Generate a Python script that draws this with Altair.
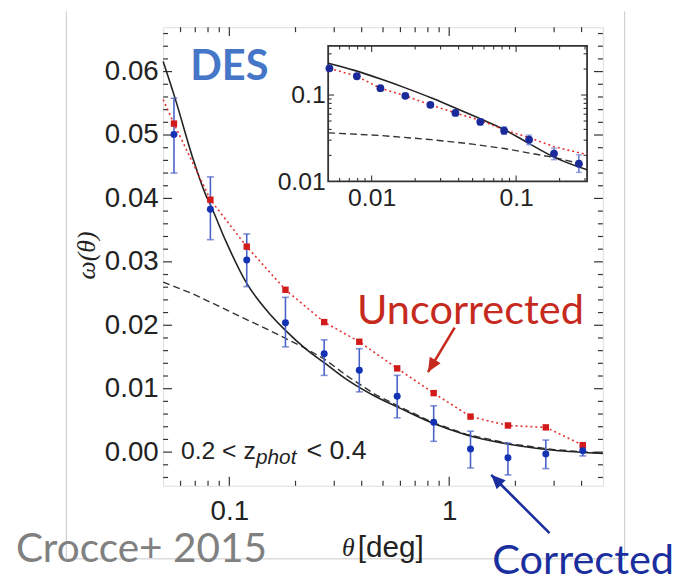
import altair as alt
import pandas as pd
import numpy as np

W, H = 445, 464
SANS = "Liberation Sans, Arial, Helvetica"
SERIF = "Liberation Serif, Times New Roman, serif"
LATO = "Lato, Noto Sans, sans-serif"

# ---------------- main panel data ----------------
theta = [0.056, 0.082, 0.12, 0.18, 0.27, 0.39, 0.58, 0.85, 1.25, 1.85, 2.75, 4.05]
w_corr = [0.0501, 0.0383, 0.0303, 0.0204, 0.0155, 0.0129, 0.0088, 0.0047, 0.0005, -0.0009, -0.0003, 0.0002]
w_corr_lo = [0.0440, 0.0335, 0.0261, 0.0166, 0.0121, 0.0095, 0.0054, 0.0017, -0.0025, -0.0036, -0.0026, -0.0006]
w_corr_hi = [0.0558, 0.0434, 0.0344, 0.0244, 0.0177, 0.0163, 0.0121, 0.0073, 0.0033, 0.0014, 0.0019, 0.0009]
w_unc = [0.0518, 0.0398, 0.0324, 0.0256, 0.0205, 0.0174, 0.0132, 0.0093, 0.0056, 0.0042, 0.0039, 0.0011]
unc_line_theta = [0.05] + theta
unc_line_w = [0.0556] + w_unc

model_theta = [0.05, 0.057, 0.068, 0.078, 0.0825, 0.0963, 0.12, 0.15, 0.18, 0.224, 0.27, 0.34,
               0.46, 0.6, 0.85, 1.2, 1.9, 3.0, 5.0]
model_w = [0.0616, 0.0555, 0.0465, 0.0406, 0.0388, 0.0333, 0.0266, 0.0221, 0.0192, 0.0162, 0.0141,
           0.0115, 0.0088, 0.0069, 0.0045, 0.0027, 0.0012, 0.0003, -0.0002]
lin_theta = [0.05, 0.068, 0.1, 0.15, 0.2125, 0.27, 0.34, 0.46, 0.6, 0.85, 1.2, 1.9, 3.0, 5.0]
lin_w = [0.0268, 0.0250, 0.0222, 0.0193, 0.0167, 0.0147, 0.0121, 0.0091, 0.0071, 0.0046, 0.0028,
         0.0013, 0.0004, -0.0002]

# ---------------- inset data ----------------
in_theta = [0.0051, 0.0079, 0.0115, 0.0171, 0.0255, 0.038, 0.0565, 0.0826, 0.123, 0.183, 0.272]
in_w = [0.204, 0.165, 0.120, 0.098, 0.077, 0.062, 0.049, 0.0386, 0.0304, 0.021, 0.016]
in_lo = [0.197, 0.159, 0.115, 0.094, 0.073, 0.058, 0.045, 0.0350, 0.0266, 0.0178, 0.0127]
in_hi = [0.211, 0.171, 0.125, 0.102, 0.081, 0.066, 0.053, 0.0428, 0.0344, 0.0242, 0.0203]
in_unc_theta = in_theta + [0.31]
in_unc_w = [0.204, 0.165, 0.120, 0.098, 0.077, 0.062, 0.051, 0.0395, 0.0322, 0.0252, 0.0215, 0.0205]
in_model_theta = [0.005, 0.0076, 0.0117, 0.0171, 0.026, 0.038, 0.0565, 0.0826, 0.123, 0.183, 0.31]
in_model_w = [0.233, 0.193, 0.152, 0.121, 0.0923, 0.0706, 0.0531, 0.0399, 0.0274, 0.0191, 0.0136]
in_lin_theta = [0.005, 0.0115, 0.026, 0.05, 0.083, 0.183, 0.28, 0.31]
in_lin_w = [0.0365, 0.0340, 0.0304, 0.0270, 0.0240, 0.0189, 0.0160, 0.0152]

# tick positions
main_x_major = [0.1, 1.0]
main_x_minor = [0.06, 0.07, 0.08, 0.09, 0.2, 0.3, 0.4, 0.5, 0.6, 0.7, 0.8, 0.9, 2.0, 3.0, 4.0]
main_y_major = [0.0, 0.01, 0.02, 0.03, 0.04, 0.05, 0.06]
main_y_minor = [-0.004, -0.002, 0.002, 0.004, 0.006, 0.008, 0.012, 0.014, 0.016, 0.018,
                0.022, 0.024, 0.026, 0.028, 0.032, 0.034, 0.036, 0.038, 0.042, 0.044, 0.046, 0.048,
                0.052, 0.054, 0.056, 0.058, 0.062, 0.064, 0.066]
in_x_major = [0.01, 0.1]
in_x_minor = [0.006, 0.007, 0.008, 0.009, 0.02, 0.03, 0.04, 0.05, 0.06, 0.07, 0.08, 0.09, 0.2, 0.3]
in_y_major = [0.1]
in_y_minor = [0.02, 0.03, 0.04, 0.05, 0.06, 0.07, 0.08, 0.09, 0.2, 0.3]

# ---------------- scales / axes ----------------
xs_main = alt.Scale(type="log", domain=[0.05, 5], nice=False)
ys_main = alt.Scale(domain=[-0.0053, 0.067], nice=False, zero=False)
ax_main_x = alt.Axis(values=main_x_major, labelExpr="datum.value >= 1 ? '1' : '0.1'", tickSize=0,
                     domain=False, grid=False, labelFontSize=28, labelFont=SANS, labelColor="#222",
                     labelPadding=12, title=None, labelFlush=False)
ax_main_y = alt.Axis(values=main_y_major, format=".2f", tickSize=0, domain=False, grid=False,
                     labelFontSize=28, labelFont=SANS, labelColor="#222", labelPadding=5, title=None)

IX0, IX1, IY0, IY1 = 167, 429, 156, 19
xs_in = alt.Scale(type="log", domain=[0.005, 0.31], nice=False, range=[IX0, IX1])
ys_in = alt.Scale(type="log", domain=[0.01, 0.37], nice=False, range=[IY0, IY1])
ax_in_x = alt.Axis(orient="bottom", offset=-(H - IY0), values=in_x_major,
                   labelExpr="datum.value < 0.05 ? '0.01' : '0.1'", tickSize=0, domain=False,
                   grid=False, labelFontSize=25, labelFont=SANS, labelColor="#222", labelPadding=4,
                   title=None, labelFlush=False)
ax_in_y = alt.Axis(orient="left", offset=-IX0, values=[0.01, 0.1],
                   labelExpr="datum.value < 0.05 ? '0.01' : '0.1'", tickSize=0, domain=False,
                   grid=False, labelFontSize=25, labelFont=SANS, labelColor="#222", labelPadding=3,
                   title=None, labelFlush=False)


def mx(f):
    return alt.X(f"{f}:Q", scale=xs_main, axis=ax_main_x)


def my(f):
    return alt.Y(f"{f}:Q", scale=ys_main, axis=ax_main_y)


def ix(f):
    return alt.X(f"{f}:Q", scale=xs_in, axis=ax_in_x)


def iy(f):
    return alt.Y(f"{f}:Q", scale=ys_in, axis=ax_in_y)


main_df = pd.DataFrame({"theta": theta, "w": w_corr, "lo": w_corr_lo, "hi": w_corr_hi, "unc": w_unc})
unc_line_df = pd.DataFrame({"theta": unc_line_theta, "w": unc_line_w})
model_df = pd.DataFrame({"theta": model_theta, "w": model_w})
lin_df = pd.DataFrame({"theta": lin_theta, "w": lin_w})

BLUE = "#1432b4"
BLUE_ERR = "#4a62c8"
RED = "#d21a1a"
TICKC = "#333"

layers = []


def xticks(vals, L):
    df = pd.DataFrame({"theta": vals})
    out = []
    for y0, y1 in [(H, H - L), (0, L)]:
        out.append(alt.Chart(df).mark_rule(color=TICKC, strokeWidth=1.2).encode(
            x=mx("theta"), y=alt.value(y0), y2=alt.value(y1)))
    return out


def yticks(vals, L):
    df = pd.DataFrame({"w": vals})
    out = []
    for a, b in [(0, L), (W, W - L)]:
        out.append(alt.Chart(df).mark_rule(color=TICKC, strokeWidth=1.2).encode(
            y=my("w"), x=alt.value(a), x2=alt.value(b)))
    return out


layers += xticks(main_x_major, 9)
layers += xticks(main_x_minor, 5)
layers += yticks(main_y_major, 9)
layers += yticks(main_y_minor, 5)

layers.append(alt.Chart(lin_df).mark_line(color="#333", strokeWidth=1.4, strokeDash=[7, 4]).encode(
    x=mx("theta"), y=my("w")))
layers.append(alt.Chart(model_df).mark_line(color="#222", strokeWidth=1.6, interpolate="monotone").encode(
    x=mx("theta"), y=my("w")))
layers.append(alt.Chart(unc_line_df).mark_line(color="#e53030", strokeWidth=1.6, strokeDash=[2, 3]).encode(
    x=mx("theta"), y=my("w")))
layers.append(alt.Chart(main_df).mark_rule(color=BLUE_ERR, strokeWidth=1.6).encode(
    x=mx("theta"), y=my("lo"), y2="hi"))
layers.append(alt.Chart(main_df).mark_tick(color=BLUE_ERR, thickness=1.6, size=7, orient="horizontal").encode(
    x=mx("theta"), y=my("lo")))
layers.append(alt.Chart(main_df).mark_tick(color=BLUE_ERR, thickness=1.6, size=7, orient="horizontal").encode(
    x=mx("theta"), y=my("hi")))
layers.append(alt.Chart(main_df).mark_point(shape="square", filled=True, color=RED, size=42, opacity=1).encode(
    x=mx("theta"), y=my("unc")))
layers.append(alt.Chart(main_df).mark_point(shape="circle", filled=True, color=BLUE, size=50, opacity=1).encode(
    x=mx("theta"), y=my("w")))


def txt(s, x, y, **kw):
    return alt.Chart(pd.DataFrame({"t": [s]})).mark_text(**kw).encode(
        text="t:N", x=alt.value(x), y=alt.value(y))


# light slide frame
for enc in [dict(x=alt.value(-98), y=alt.value(-16), y2=alt.value(538)),
            dict(x=alt.value(467), y=alt.value(-16), y2=alt.value(538)),
            dict(x=alt.value(-98), x2=alt.value(467), y=alt.value(538))]:
    layers.append(alt.Chart(pd.DataFrame({"a": [0]})).mark_rule(color="#c8c8c8", strokeWidth=1).encode(**enc))

# annotations
layers.append(txt("DES", 67, 40, font=LATO, fontSize=42, fontWeight="bold", color="#4676c8",
                  align="center", baseline="middle"))
layers.append(txt("0.2 < z", 18, 429, font=SANS, fontSize=25, color="#222", align="left", baseline="middle"))
layers.append(txt("phot", 94, 436, font=SANS, fontSize=21, fontStyle="italic", color="#222",
                  align="left", baseline="middle"))
layers.append(txt("< 0.4", 145, 429, font=SANS, fontSize=27, color="#222", align="left", baseline="middle"))
layers.append(txt("ω(θ)", -77, 231, font=SERIF, fontSize=26, fontStyle="italic", color="#222",
                  align="center", baseline="middle", angle=270))
layers.append(txt("θ", 181, 527, font=SERIF, fontSize=26, fontStyle="italic", color="#222",
                  align="left", baseline="middle"))
layers.append(txt("[deg]", 197, 527, font=SANS, fontSize=30, color="#222", align="left", baseline="middle"))
layers.append(txt("Uncorrected", 311, 287, font=LATO, fontSize=42, color="#c62a1e", align="center",
                  baseline="middle"))
layers.append(txt("Corrected", 425, 540, font=LATO, fontSize=42, color="#1a2e9e", align="center",
                  baseline="middle"))
layers.append(txt("Crocce+ 2015", -22, 529, font=LATO, fontSize=41, color="#808080", align="center",
                  baseline="middle"))

# arrows
ARROW = "M0,0 L-0.45,1 L0.45,1 Z"
for (x0, y0, x1, y1, ang, col) in [(295, 304, 268, 349, 211, "#c62a1e"), (391, 512, 332, 453, 315, "#1a2e9e")]:
    layers.append(alt.Chart(pd.DataFrame({"a": [0]})).mark_rule(color=col, strokeWidth=2.6).encode(
        x=alt.value(x0), y=alt.value(y0), x2=alt.value(x1), y2=alt.value(y1)))
    layers.append(alt.Chart(pd.DataFrame({"a": [0]})).mark_point(
        shape=ARROW, filled=True, color=col, size=800, angle=ang, opacity=1).encode(
        x=alt.value(x1), y=alt.value(y1)))

main_layer = alt.layer(*layers)

# ---------------- inset ----------------
in_df = pd.DataFrame({"theta": in_theta, "w": in_w, "lo": in_lo, "hi": in_hi})
in_unc_df = pd.DataFrame({"theta": in_unc_theta, "w": in_unc_w})
in_model_df = pd.DataFrame({"theta": in_model_theta, "w": in_model_w})
in_lin_df = pd.DataFrame({"theta": in_lin_theta, "w": in_lin_w})
frame_df = pd.DataFrame({"x0": [0.005], "x1": [0.31], "y0": [0.01], "y1": [0.37]})

in_layers = []
in_layers.append(alt.Chart(frame_df).mark_rect(fill="white", stroke="#333", strokeWidth=1.8).encode(
    x=ix("x0"), x2="x1", y=iy("y0"), y2="y1"))
for vals, L in [(in_x_major, 6), (in_x_minor, 3.5)]:
    df = pd.DataFrame({"theta": vals})
    for y0, y1 in [(IY0, IY0 - L), (IY1, IY1 + L)]:
        in_layers.append(alt.Chart(df).mark_rule(color=TICKC, strokeWidth=1.1).encode(
            x=ix("theta"), y=alt.value(y0), y2=alt.value(y1)))
for vals, L in [(in_y_major, 6), (in_y_minor, 3.5)]:
    df = pd.DataFrame({"w": vals})
    for a, b in [(IX0, IX0 + L), (IX1, IX1 - L)]:
        in_layers.append(alt.Chart(df).mark_rule(color=TICKC, strokeWidth=1.1).encode(
            y=iy("w"), x=alt.value(a), x2=alt.value(b)))
in_layers.append(alt.Chart(in_lin_df).mark_line(color="#333", strokeWidth=1.4, strokeDash=[7, 4]).encode(
    x=ix("theta"), y=iy("w")))
in_layers.append(alt.Chart(in_model_df).mark_line(color="#222", strokeWidth=1.6, interpolate="monotone").encode(
    x=ix("theta"), y=iy("w")))
in_layers.append(alt.Chart(in_unc_df).mark_line(color="#e53030", strokeWidth=1.6, strokeDash=[2, 3]).encode(
    x=ix("theta"), y=iy("w")))
in_layers.append(alt.Chart(in_df).mark_rule(color="#6a80d8", strokeWidth=1.6).encode(
    x=ix("theta"), y=iy("lo"), y2="hi"))
in_layers.append(alt.Chart(in_df).mark_tick(color="#6a80d8", thickness=1.4, size=6, orient="horizontal").encode(
    x=ix("theta"), y=iy("lo")))
in_layers.append(alt.Chart(in_df).mark_tick(color="#6a80d8", thickness=1.4, size=6, orient="horizontal").encode(
    x=ix("theta"), y=iy("hi")))
in_layers.append(alt.Chart(in_df).mark_point(shape="circle", filled=True, color="#1a2a9a", size=62, opacity=1).encode(
    x=ix("theta"), y=iy("w")))

inset_layer = alt.layer(*in_layers)

chart = alt.layer(main_layer, inset_layer).resolve_scale(x="independent", y="independent").properties(
    width=W, height=H,
    autosize=alt.AutoSizeParams(type="none"),
    padding={"left": 157, "top": 16, "right": 75, "bottom": 94},
).configure_view(stroke="#333", strokeWidth=2).configure(background="white")

chart.save("out.html", embed_options={"renderer": "svg", "actions": False})
